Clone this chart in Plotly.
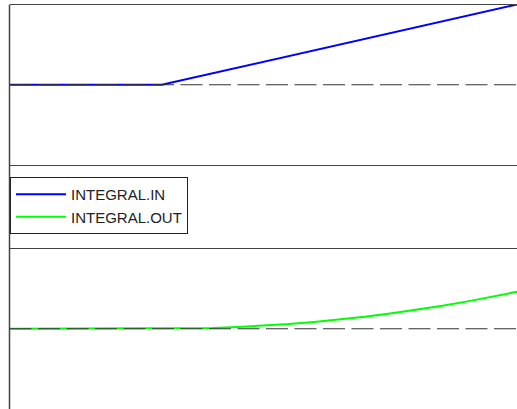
import plotly.graph_objects as go

# time samples
t_in = [0, 3, 10]
integral_in = [0.0, 0.0, 1.0]

t_out = [0, 1, 2, 3, 3.5, 4, 4.5, 5, 5.5, 6, 6.5, 7, 7.5, 8, 8.5, 9, 9.5, 10]
integral_out = [0.0, 0.0, 0.0, 0.0, 0.002, 0.009, 0.021, 0.038, 0.059, 0.085,
                0.115, 0.150, 0.190, 0.235, 0.284, 0.338, 0.397, 0.46]

t_ref = [0, 10]
ref_zero = [0, 0]

W, H = 517, 409
fig = go.Figure()

fig.add_trace(go.Scatter(x=t_in, y=integral_in, mode="lines", name="INTEGRAL.IN",
                         line=dict(color="#0000ff", width=2), xaxis="x", yaxis="y"))
fig.add_trace(go.Scatter(x=t_out, y=integral_out, mode="lines", name="INTEGRAL.OUT",
                         line=dict(color="#00ff00", width=2), xaxis="x2", yaxis="y2"))
fig.add_trace(go.Scatter(x=t_ref, y=ref_zero, mode="lines", showlegend=False,
                         line=dict(color="#333333", width=1, dash="22px,6.5px"), xaxis="x", yaxis="y"))
fig.add_trace(go.Scatter(x=t_ref, y=ref_zero, mode="lines", showlegend=False,
                         line=dict(color="#333333", width=1, dash="22px,6.5px"), xaxis="x2", yaxis="y2"))

xl = 9.5 / W
ax_common = dict(showgrid=False, zeroline=False, showticklabels=False, ticks="")
fig.update_layout(
    width=W, height=H,
    margin=dict(l=0, r=0, t=0, b=0),
    paper_bgcolor="white", plot_bgcolor="white",
    showlegend=True,
    xaxis=dict(domain=[xl, 1], range=[0, 10], anchor="y", showline=True, mirror=True,
               linecolor="#444444", linewidth=1, **ax_common),
    yaxis=dict(domain=[1 - 165 / H, 1 - 4.5 / H], range=[-1, 1], anchor="x",
               showline=False, **ax_common),
    xaxis2=dict(domain=[xl, 1], range=[0, 10], anchor="y2", side="top", showline=True,
                linecolor="#444444", linewidth=1, **ax_common),
    yaxis2=dict(domain=[0, 1 - 248.5 / H], range=[-1, 1], anchor="x2",
                showline=False, **ax_common),
    legend=dict(x=10 / W, y=1 - 177 / H, xanchor="left", yanchor="top",
                bordercolor="#222222", borderwidth=1, bgcolor="white",
                font=dict(family="Liberation Sans, Arial", size=15, color="#222222"),
                itemwidth=50, tracegroupgap=0),
    shapes=[dict(type="line", xref="paper", yref="paper", x0=xl, x1=xl,
                 y0=0, y1=1 - 4.5 / H, line=dict(color="#444444", width=1.5))],
)

fig.write_html("out.html")
